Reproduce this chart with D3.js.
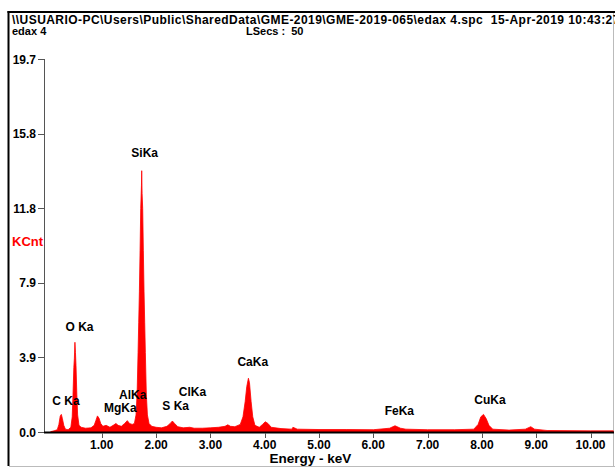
<!DOCTYPE html>
<html>
<head>
<meta charset="utf-8">
<script src="https://cdn.jsdelivr.net/npm/d3@7"></script>
<style>
	html, body { margin: 0; padding: 0; background: #fff; }
	svg { display: block; font-family: "Liberation Sans", Arial, sans-serif; font-weight: bold; }
</style>
</head>
<body>
<svg id="chart"></svg>
<script>
// spectrum (keV, KCnt)
const energy = [
	0.06, 0.12, 0.18, 0.21, 0.235, 0.255, 0.275, 0.30, 0.33, 0.38,
	0.43, 0.455, 0.47, 0.485, 0.495, 0.505, 0.515, 0.525, 0.54, 0.555, 0.58,
	0.62, 0.70, 0.80, 0.86, 0.89, 0.92, 0.95, 0.98, 1.02, 1.08, 1.15,
	1.21, 1.26, 1.30, 1.36, 1.42, 1.47, 1.51, 1.56,
	1.60, 1.63, 1.65, 1.668, 1.68, 1.692, 1.705, 1.717, 1.73, 1.735, 1.742,
	1.753, 1.765, 1.778, 1.79, 1.802, 1.82, 1.84, 1.87,
	1.92, 2.00, 2.10, 2.20, 2.26, 2.30, 2.34, 2.40, 2.50, 2.62, 2.70, 2.85,
	3.00, 3.15, 3.27, 3.32, 3.37, 3.45, 3.55, 3.60, 3.64, 3.67, 3.70, 3.72,
	3.75, 3.78, 3.82, 3.90, 3.96, 4.01, 4.06, 4.12, 4.30, 4.50, 4.52, 4.60,
	5.00, 5.50, 6.00, 6.30, 6.40, 6.50, 6.60, 7.00, 7.50, 7.85, 7.93,
	7.98, 8.03, 8.08, 8.13, 8.20, 8.50, 8.80, 8.90, 8.97, 9.20, 10.00, 10.42
];
const counts = [
	0.02, 0.06, 0.12, 0.40, 0.85, 0.93, 0.70, 0.35, 0.15, 0.12,
	0.25, 0.80, 2.00, 3.40, 3.90, 4.74, 4.20, 3.50, 2.00, 0.90, 0.35,
	0.25, 0.20, 0.22, 0.35, 0.60, 0.85, 0.72, 0.45, 0.30, 0.35, 0.25,
	0.35, 0.45, 0.35, 0.30, 0.45, 0.60, 0.45, 0.40,
	0.45, 0.90, 2.00, 4.20, 5.80, 7.40, 9.60, 11.80, 13.00, 13.80, 12.60,
	11.80, 9.60, 7.40, 5.80, 4.20, 2.00, 0.90, 0.45,
	0.30, 0.25, 0.22, 0.30, 0.45, 0.58, 0.45, 0.28, 0.22, 0.25, 0.20, 0.20,
	0.22, 0.25, 0.30, 0.38, 0.30, 0.28, 0.40, 0.80, 1.60, 2.40, 2.84, 2.60,
	1.60, 0.80, 0.35, 0.25, 0.40, 0.54, 0.45, 0.25, 0.18, 0.15, 0.25, 0.15,
	0.13, 0.13, 0.12, 0.20, 0.33, 0.20, 0.15, 0.12, 0.12, 0.15, 0.40,
	0.80, 0.93, 0.70, 0.35, 0.15, 0.10, 0.15, 0.28, 0.15, 0.08, 0.06, 0.06
];

// element line labels: name, anchor energy (keV), anchor height (KCnt)
const lineNames = ['C Ka', 'O Ka', 'SiKa', 'AlKa', 'MgKa', 'S Ka', 'ClKa', 'CaKa', 'FeKa', 'CuKa'];
const lineEnergy = [0.34, 0.59, 1.79, 1.57, 1.34, 2.36, 2.67, 3.78, 6.48, 8.15];
const lineHeight = [1.43, 5.33, 14.53, 1.74, 1.06, 1.16, 1.90, 3.49, 0.90, 1.48];

const yTicks = [0, 3.94, 7.88, 11.82, 15.76, 19.7];
const xTicks = [1, 2, 3, 4, 5, 6, 7, 8, 9, 10];

const headerPath = '\\\\USUARIO-PC\\Users\\Public\\SharedData\\GME-2019\\GME-2019-065\\edax 4.spc  15-Apr-2019 10:43:27';
const headerName = 'edax 4';
const headerSecs = 'LSecs :  50';

const W = 615, H = 469;
const svg = d3.select('#chart')
	.attr('width', W)
	.attr('height', H);

// frame
svg.append('line')
	.attr('x1', 8.5).attr('y1', 11).attr('x2', 8.5).attr('y2', 466)
	.attr('stroke', '#000').attr('stroke-width', 2);
svg.append('line')
	.attr('x1', 7.5).attr('y1', 12).attr('x2', W).attr('y2', 12)
	.attr('stroke', '#000').attr('stroke-width', 2);
svg.append('line')
	.attr('x1', 613.5).attr('y1', 13).attr('x2', 613.5).attr('y2', 466)
	.attr('stroke', '#bbb').attr('stroke-width', 1);
svg.append('line')
	.attr('x1', 9).attr('y1', 466.5).attr('x2', W).attr('y2', 466.5)
	.attr('stroke', '#bbb').attr('stroke-width', 1);

// header
svg.append('text')
	.attr('x', 12).attr('y', 24)
	.attr('font-size', 12)
	.attr('letter-spacing', 0.45)
	.style('white-space', 'pre')
	.text(headerPath);
svg.append('text')
	.attr('x', 12).attr('y', 35)
	.attr('font-size', 11)
	.text(headerName);
svg.append('text')
	.attr('x', 246).attr('y', 35)
	.attr('font-size', 11)
	.style('white-space', 'pre')
	.text(headerSecs);

const x = d3.scaleLinear()
	.domain([0, 10]).range([47.5, 590.5]);
const y = d3.scaleLinear()
	.domain([0, 19.7]).range([432, 59]);

// spectrum
const spectrum = d3.zip(energy, counts);
const area = d3.area()
	.x(d => x(d[0]))
	.y0(y(0))
	.y1(d => y(d[1]));
svg.append('path').datum(spectrum)
	.attr('d', area)
	.attr('fill', '#ff0000')
	.attr('stroke', '#ff0000')
	.attr('stroke-width', 0.8);

// y axis
const yAxis = svg.append('g');
yAxis.append('line')
	.attr('x1', 44.5).attr('y1', y(19.7)).attr('x2', 44.5).attr('y2', y(0))
	.attr('stroke', '#555').attr('stroke-width', 1);
yAxis.selectAll('line.tick').data(yTicks).enter()
	.append('line')
		.attr('class', 'tick')
		.attr('x1', 38).attr('x2', 44.5)
		.attr('y1', d => Math.round(y(d)) + 0.5)
		.attr('y2', d => Math.round(y(d)) + 0.5)
		.attr('stroke', '#555');
yAxis.selectAll('text').data(yTicks).enter()
	.append('text')
		.attr('x', 36)
		.attr('y', d => y(d) + 4.5)
		.attr('text-anchor', 'end')
		.attr('font-size', 12)
		.text(d => d3.format('.1f')(d));

svg.append('text')
	.attr('x', 12).attr('y', 246)
	.attr('font-size', 13)
	.attr('fill', '#ff0000')
	.text('KCnt');

// x axis
const xAxis = svg.append('g');
xAxis.append('line')
	.attr('x1', 44).attr('y1', 432.5).attr('x2', 614).attr('y2', 432.5)
	.attr('stroke', '#000').attr('stroke-width', 2);
xAxis.selectAll('line.tick').data(xTicks).enter()
	.append('line')
		.attr('class', 'tick')
		.attr('x1', d => Math.round(x(d)) + 0.5)
		.attr('x2', d => Math.round(x(d)) + 0.5)
		.attr('y1', 433).attr('y2', 438)
		.attr('stroke', '#555');
xAxis.selectAll('text').data(xTicks).enter()
	.append('text')
		.attr('x', d => x(d))
		.attr('y', 449)
		.attr('text-anchor', 'middle')
		.attr('font-size', 12)
		.text(d => d3.format('.2f')(d));

svg.append('text')
	.attr('x', 310.5).attr('y', 463)
	.attr('text-anchor', 'middle')
	.attr('font-size', 13.5)
	.text('Energy - keV');

// peak labels
svg.append('g').selectAll('text').data(lineNames).enter()
	.append('text')
		.attr('x', (d, i) => x(lineEnergy[i]))
		.attr('y', (d, i) => y(lineHeight[i]))
		.attr('text-anchor', 'middle')
		.attr('font-size', 12)
		.style('white-space', 'pre')
		.text(d => d);
</script>
</body>
</html>
